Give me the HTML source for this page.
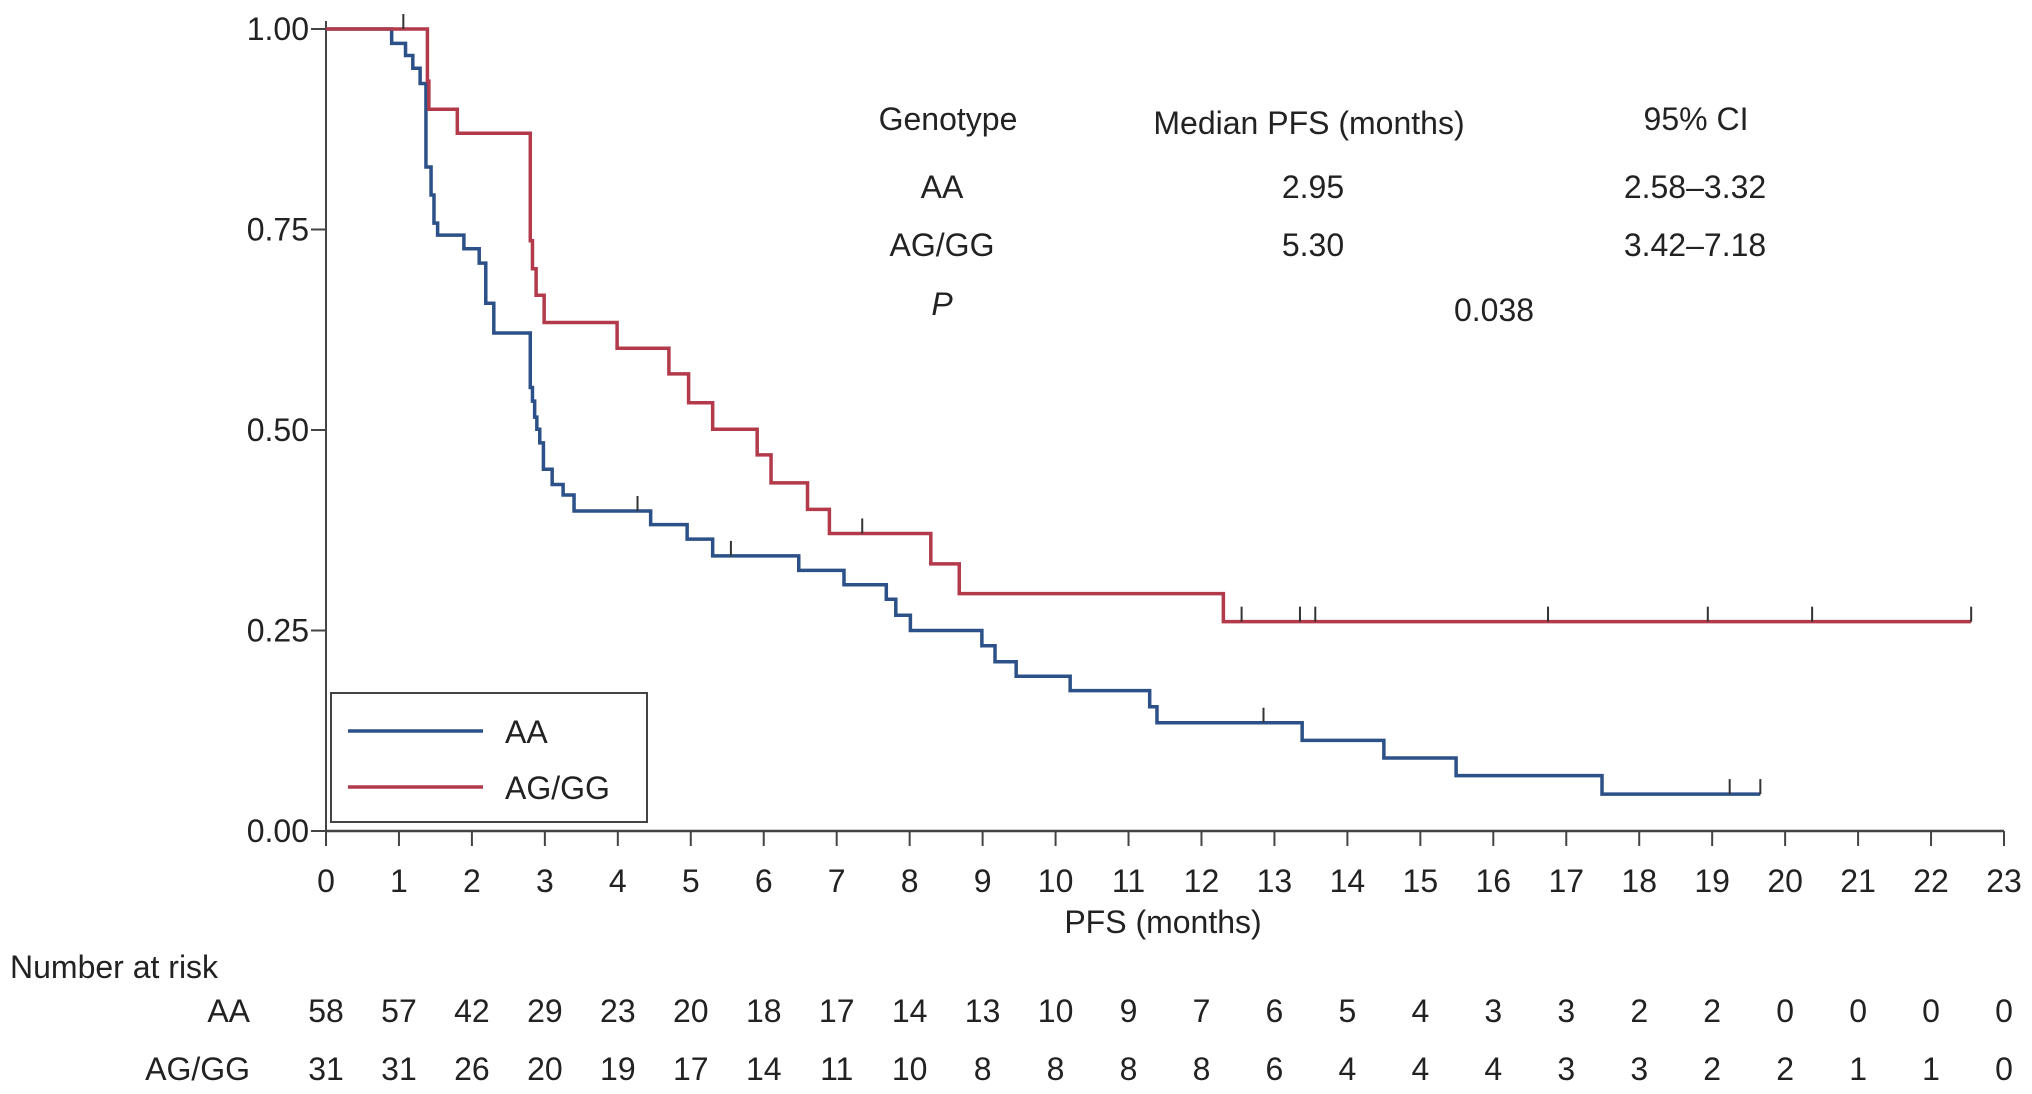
<!DOCTYPE html>
<html><head><meta charset="utf-8"><style>
html,body{margin:0;padding:0;background:#fff;}
svg{display:block;font-family:"Liberation Sans",Arial,sans-serif;}
</style></head><body>
<svg id="chart" width="2032" height="1094" viewBox="0 0 2032 1094" xmlns="http://www.w3.org/2000/svg">
<g id="axes"></g>
<g id="curves"></g>
<g font-size="32" fill="#222" text-anchor="middle">
<text x="948" y="130">Genotype</text>
<text x="1309" y="134">Median PFS (months)</text>
<text x="1696" y="130">95% CI</text>
<text x="942" y="198">AA</text>
<text x="1313" y="198">2.95</text>
<text x="1695" y="198">2.58–3.32</text>
<text x="942" y="256">AG/GG</text>
<text x="1313" y="256">5.30</text>
<text x="1695" y="256">3.42–7.18</text>
<text x="942" y="315" font-style="italic">P</text>
<text x="1494" y="321">0.038</text>
</g>
<g>
<rect x="331" y="693" width="316" height="129" fill="#fff" stroke="#444" stroke-width="2"/>
<line x1="348" y1="731" x2="483" y2="731" stroke="#2c5188" stroke-width="3.5"/>
<text x="505" y="743" font-size="32" fill="#222">AA</text>
<line x1="348" y1="787" x2="483" y2="787" stroke="#b23a4a" stroke-width="3.5"/>
<text x="505" y="799" font-size="32" fill="#222">AG/GG</text>
</g>
<text x="1163" y="933" font-size="32" fill="#222" text-anchor="middle">PFS (months)</text>
<text x="10" y="978" font-size="32" fill="#222">Number at risk</text>
<text x="250" y="1022" font-size="32" fill="#222" text-anchor="end">AA</text>
<text x="250" y="1080" font-size="32" fill="#222" text-anchor="end">AG/GG</text>
<g id="risk" font-size="32" fill="#222" text-anchor="middle"></g>
</svg>
<script>
const xTicks = [0,1,2,3,4,5,6,7,8,9,10,11,12,13,14,15,16,17,18,19,20,21,22,23];
const yTicks = [0, 0.25, 0.5, 0.75, 1.0];
const yTickLabels = ["0.00","0.25","0.50","0.75","1.00"];
const aaTimes = [0,0.90,1.09,1.19,1.29,1.37,1.44,1.48,1.53,1.89,2.10,2.19,2.30,2.80,2.83,2.86,2.89,2.93,2.98,3.10,3.25,3.40,4.45,4.95,5.30,6.48,7.10,7.68,7.81,8.01,8.99,9.17,9.46,10.20,11.29,11.39,13.38,14.50,15.49,17.49,19.66];
const aaSurv = [1.0,0.982,0.967,0.951,0.932,0.828,0.793,0.758,0.743,0.726,0.708,0.658,0.621,0.553,0.536,0.516,0.501,0.484,0.451,0.432,0.419,0.399,0.382,0.364,0.343,0.325,0.307,0.289,0.269,0.250,0.231,0.211,0.193,0.175,0.155,0.135,0.113,0.091,0.069,0.046,0.046];
const aaCensor = [4.27,5.55,12.85,19.24,19.66];
const agTimes = [0,1.39,1.41,1.80,2.80,2.83,2.88,2.99,3.99,4.70,4.97,5.30,5.91,6.10,6.60,6.90,8.29,8.68,12.30,22.55];
const agSurv = [1.0,0.935,0.900,0.870,0.736,0.701,0.668,0.634,0.602,0.570,0.534,0.501,0.469,0.434,0.401,0.371,0.333,0.296,0.261,0.261];
const agCensor = [1.06,7.35,12.55,13.35,13.56,16.75,18.94,20.37,22.55];
const riskAA = [58,57,42,29,23,20,18,17,14,13,10,9,7,6,5,4,3,3,2,2,0,0,0,0];
const riskAG = [31,31,26,20,19,17,14,11,10,8,8,8,8,6,4,4,4,3,3,2,2,1,1,0];

const X0=326, X1=2004, Y0=831, Y1=29;
const sx = t => X0 + (X1-X0)*t/23;
const sy = v => Y0 - (Y0-Y1)*v;
const NS="http://www.w3.org/2000/svg";
function mk(tag, attrs, parent){const e=document.createElementNS(NS,tag);for(const k in attrs)e.setAttribute(k,attrs[k]);parent.appendChild(e);return e;}

const axes=document.getElementById('axes');
let e=mk('line',{x1:X0,y1:Y1-8,x2:X0,y2:Y0,stroke:'#444','stroke-width':2},axes);


e=mk('line',{x1:X0,y1:Y0,x2:X1,y2:Y0,stroke:'#444','stroke-width':2.5},axes);


yTicks.forEach((v,i)=>{
  const t=mk('line',{x1:X0-15,y1:sy(v),x2:X0,y2:sy(v),stroke:'#444','stroke-width':2},axes);
  
  
  const l=mk('text',{x:X0-17,y:sy(v)+11,'font-size':32,fill:'#222','text-anchor':'end'},axes);
  l.textContent=yTickLabels[i];
  
  
});
xTicks.forEach(v=>{
  const t=mk('line',{x1:sx(v),y1:Y0,x2:sx(v),y2:Y0+15,stroke:'#444','stroke-width':2},axes);
  
  
  const l=mk('text',{x:sx(v),y:892,'font-size':32,fill:'#222','text-anchor':'middle'},axes);
  l.textContent=v;
  
  
});

const curves=document.getElementById('curves');
function drawCurve(times,surv,censor,color,name){
  let d='M'+sx(times[0])+','+sy(surv[0]);
  for(let i=1;i<times.length;i++){d+=' H'+sx(times[i])+' V'+sy(surv[i]);}
  const p=mk('path',{d:d,fill:'none',stroke:color,'stroke-width':3.5},curves);
  
  
  censor.forEach(c=>{
    let s=surv[0];
    for(let i=0;i<times.length;i++){if(times[i]<=c)s=surv[i];}
    const m=mk('line',{x1:sx(c),y1:sy(s),x2:sx(c),y2:sy(s)-15,stroke:'#333','stroke-width':2},curves);
    
    
  });
}
drawCurve(aaTimes,aaSurv,aaCensor,'#2c5188','aa');
drawCurve(agTimes,agSurv,agCensor,'#b23a4a','aggg');

const risk=document.getElementById('risk');
xTicks.forEach((v,i)=>{
  const a=mk('text',{x:sx(v),y:1022},risk);
  a.textContent=riskAA[i];
  
  
  const b=mk('text',{x:sx(v),y:1080},risk);
  b.textContent=riskAG[i];
  
  
});
</script>
</body></html>
